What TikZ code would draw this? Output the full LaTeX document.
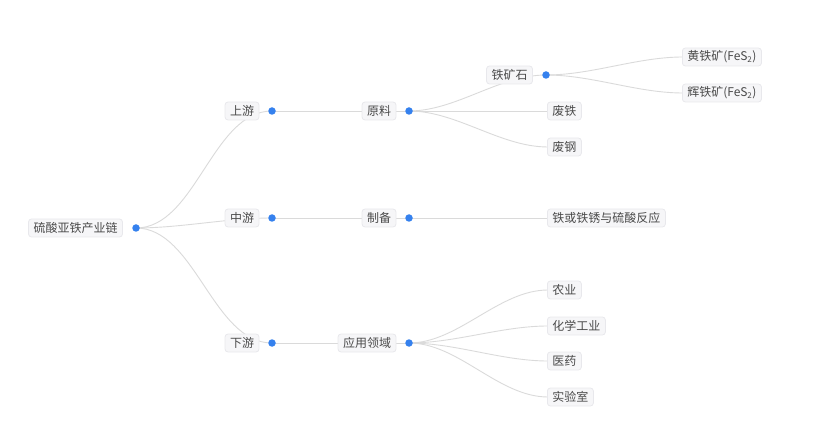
\documentclass[tikz,border=0pt]{standalone}
\usepackage{fontspec}
\setmainfont{Noto Sans CJK SC}
\begin{document}
\begin{tikzpicture}[x=1pt,y=-1pt,
  box/.style={draw=boxline,fill=boxfill,rounded corners=3pt,text=txt,
    font=\fontsize{12}{14}\selectfont,inner xsep=5pt,inner ysep=0pt,
    minimum height=18pt,line width=0.8pt},
  dot/.style={circle,fill=dotblue,inner sep=0pt,minimum size=7.5pt},
  link/.style={draw=linkgray,line width=0.9pt},
  crv/.style={link,out=0,in=180,looseness=0.85}]
\definecolor{boxline}{HTML}{E8E8EC}
\definecolor{boxfill}{HTML}{F6F6F8}
\definecolor{txt}{HTML}{4A4A4A}
\definecolor{dotblue}{HTML}{3581EE}
\definecolor{linkgray}{HTML}{DADADA}
\useasboundingbox (0,0) rectangle (837,435);
% link end points
\coordinate (c0) at (136,228);
\coordinate (c1) at (272,111);
\coordinate (c2) at (272,218);
\coordinate (c3) at (272,343);
\coordinate (c11) at (409,111);
\coordinate (c21) at (409,218);
\coordinate (c31) at (409,343);
\coordinate (c111) at (546,75);
\coordinate (e112) at (548,111);
\coordinate (e113) at (548,147);
\coordinate (e211) at (548,218);
\coordinate (e1111) at (683,57);
\coordinate (e1112) at (683,93);
\coordinate (e311) at (548,290);
\coordinate (e312) at (548,326);
\coordinate (e313) at (548,361);
\coordinate (e314) at (548,397);
% links
\draw[crv] (c0) to (c1);
\draw[crv] (c0) to (c2);
\draw[crv] (c0) to (c3);
\draw[link] (c1) -- (c11);
\draw[link] (c2) -- (c21);
\draw[link] (c3) -- (c31);
\draw[crv] (c11) to (c111);
\draw[link] (c11) -- (e112);
\draw[crv] (c11) to (e113);
\draw[link] (c21) -- (e211);
\draw[crv] (c111) to (e1111);
\draw[crv] (c111) to (e1112);
\draw[crv] (c31) to (e311);
\draw[crv] (c31) to (e312);
\draw[crv] (c31) to (e313);
\draw[crv] (c31) to (e314);
% dots
\node[dot] (d0) at (c0) {};
\node[dot] (d1) at (c1) {};
\node[dot] (d2) at (c2) {};
\node[dot] (d3) at (c3) {};
\node[dot] (d11) at (c11) {};
\node[dot] (d21) at (c21) {};
\node[dot] (d31) at (c31) {};
\node[dot] (d111) at (c111) {};
% boxes
\node[box] (root) at (75.5,228) {硫酸亚铁产业链};
\node[box] (up) at (242,111) {上游};
\node[box] (mid) at (242,218) {中游};
\node[box] (down) at (242,343) {下游};
\node[box] (raw) at (379,111) {原料};
\node[box] (prep) at (379,218) {制备};
\node[box] (app) at (367,343) {应用领域};
\node[box] (ore) at (509.5,75) {铁矿石};
\node[box,anchor=west] (scrapi) at (547,111) {废铁};
\node[box,anchor=west] (scraps) at (547,147) {废钢};
\node[box,anchor=west] (react) at (547,218) {铁或铁锈与硫酸反应};
\node[box,anchor=west] (pyr) at (682,57) {黄铁矿(FeS\textsubscript{2})};
\node[box,anchor=west] (mar) at (682,93) {辉铁矿(FeS\textsubscript{2})};
\node[box,anchor=west] (agri) at (547,290) {农业};
\node[box,anchor=west] (chem) at (547,326) {化学工业};
\node[box,anchor=west] (med) at (547,361) {医药};
\node[box,anchor=west] (lab) at (547,397) {实验室};
\end{tikzpicture}
\end{document}
